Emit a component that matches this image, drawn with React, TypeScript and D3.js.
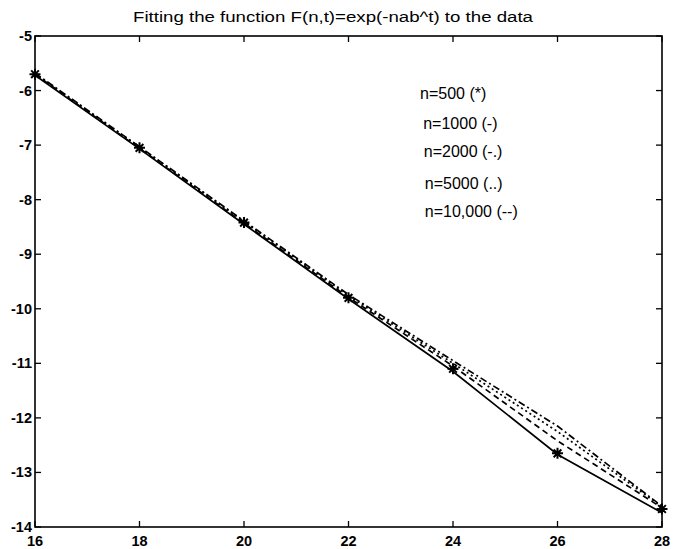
import React from 'react';
import * as d3 from 'd3';

const tValues = [16, 18, 20, 22, 24, 26, 28];
const n500 = [-5.7, -7.05, -8.42, -9.8, -11.1, -12.65, -13.67];
const n1000 = [-5.72, -7.07, -8.45, -9.82, -11.15, -12.67, -13.74];
const n2000 = [-5.68, -7.03, -8.39, -9.74, -10.95, -12.15, -13.62];
const n5000 = [-5.69, -7.04, -8.4, -9.76, -11.0, -12.25, -13.63];
const n10000 = [-5.7, -7.06, -8.43, -9.79, -11.05, -12.42, -13.65];
const xTicks = [16, 18, 20, 22, 24, 26, 28];
const yTicks = [-5, -6, -7, -8, -9, -10, -11, -12, -13, -14];
const legendLabels = ['n=500 (*)', 'n=1000 (-)', 'n=2000 (-.)', 'n=5000 (..)', 'n=10,000 (--)'];

const W = 673;
const H = 549;
const margin = { top: 36, right: 11, bottom: 22, left: 35 };
const font = '"Liberation Sans", Arial, Helvetica, sans-serif';

const App = () => {
  const x = d3.scaleLinear().domain([16, 28]).range([margin.left, W - margin.right]);
  const y = d3.scaleLinear().domain([-14, -5]).range([H - margin.bottom, margin.top]);
  const line = d3.line<number>().x((d, i) => x(tValues[i])).y(d => y(d));

  const series = [
    { values: n1000, dash: null },
    { values: n2000, dash: '7,3,2,3' },
    { values: n5000, dash: '2,3' },
    { values: n10000, dash: '6,4' },
  ];

  const star = (r: number) =>
    `M${-r},0L${r},0M0,${-r}L0,${r}M${-r * 0.7},${-r * 0.7}L${r * 0.7},${r * 0.7}M${-r * 0.7},${r * 0.7}L${r * 0.7},${-r * 0.7}`;

  const x0 = x(16), x1 = x(28), y0 = y(-5), y1 = y(-14);
  const tick = 6;

  // legend anchors in data coordinates
  const legendPos = [
    [23.37, -6.15], [23.43, -6.7], [23.44, -7.21], [23.46, -7.81], [23.46, -8.31],
  ];

  return (
    <svg width={W} height={H} style={{ position: 'absolute', left: 0, top: 0, background: '#fff' }}>
      <rect width={W} height={H} fill="#fff" />
      <text x={333} y={22} textAnchor="middle" fontFamily={font} fontSize={14}
        textLength={400} lengthAdjust="spacingAndGlyphs">
        Fitting the function F(n,t)=exp(-nab^t) to the data
      </text>

      {series.map((s, i) => (
        <path key={i} d={line(s.values) || ''} fill="none" stroke="#000" strokeWidth={1.7}
          strokeDasharray={s.dash || undefined} />
      ))}
      {n500.map((v, i) => (
        <path key={i} transform={`translate(${x(tValues[i])},${y(v)})`} d={star(5.5)}
          stroke="#000" strokeWidth={2} fill="none" />
      ))}

      <rect x={x0} y={y0} width={x1 - x0} height={y1 - y0} fill="none" stroke="#000" strokeWidth={1.6} />

      {xTicks.map(t => (
        <g key={t}>
          <line x1={x(t)} x2={x(t)} y1={y1} y2={y1 - tick} stroke="#000" strokeWidth={1.3} />
          <line x1={x(t)} x2={x(t)} y1={y0} y2={y0 + tick} stroke="#000" strokeWidth={1.3} />
          <text x={x(t)} y={y1 + 19} textAnchor="middle" fontFamily={font} fontSize={14.5} fontWeight="bold">{t}</text>
        </g>
      ))}
      {yTicks.map(t => (
        <g key={t}>
          <line x1={x0} x2={x0 + tick} y1={y(t)} y2={y(t)} stroke="#000" strokeWidth={1.3} />
          <line x1={x1} x2={x1 - tick} y1={y(t)} y2={y(t)} stroke="#000" strokeWidth={1.3} />
          <text x={x0 - 3} y={y(t) + 5} textAnchor="end" fontFamily={font} fontSize={14.5} fontWeight="bold">{t}</text>
        </g>
      ))}

      {legendLabels.map((l, i) => (
        <text key={l} x={x(legendPos[i][0])} y={y(legendPos[i][1])} fontFamily={font} fontSize={16}>{l}</text>
      ))}
    </svg>
  );
};

export default App;
